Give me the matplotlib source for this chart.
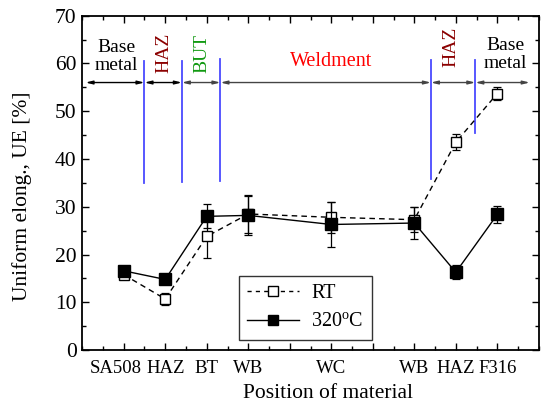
"""
Uniform elongation across the weld joint: RT vs 320 C.
"""

import matplotlib
matplotlib.use("Agg")
import matplotlib.pyplot as plt
import matplotlib.transforms as mtransforms
from matplotlib.lines import Line2D
from matplotlib.ticker import MultipleLocator, FixedLocator

plt.rcParams["font.family"] = ["Liberation Serif", "DejaVu Serif"]
plt.rcParams["mathtext.fontset"] = "custom"
plt.rcParams["mathtext.rm"] = "Liberation Serif"

# ---------------------------------------------------------------------------
# Data
# ---------------------------------------------------------------------------
positions = [1, 2, 3, 4, 6, 8, 9, 10]
tick_labels = ["SA508", "HAZ", "BT", "WB", "WC", "WB", "HAZ", "F316"]

ue_rt = [15.8, 10.7, 23.8, 28.5, 27.8, 27.3, 43.5, 53.7]
err_rt = [0.5, 1.3, 4.5, 3.9, 3.2, 2.6, 1.7, 1.4]

ue_320 = [16.6, 14.8, 28.0, 28.2, 26.3, 26.6, 16.3, 28.4]
err_320 = [0.5, 0.5, 2.5, 4.1, 4.8, 3.4, 1.5, 1.8]

# zone boundaries (x) and their vertical extent (y0, y1)
boundaries = [1.5, 2.4, 3.33, 8.4, 9.47]
boundary_y = [(35.0, 60.5), (35.2, 60.4), (35.5, 61.0), (35.8, 60.8), (45.5, 60.8)]
arrow_y = 56.0
arrow_ends = [0.08, 1.5, 2.4, 3.33, 8.4, 9.47, 10.78]

# ---------------------------------------------------------------------------
# Plot
# ---------------------------------------------------------------------------
fig = plt.figure(figsize=(5.41, 4.11), dpi=100)
ax = fig.add_axes([0.152, 0.148, 0.844, 0.814])

ax.errorbar(positions, ue_rt, yerr=err_rt, fmt="s--", color="black",
            mfc="white", mec="black", ms=7, lw=1.0, elinewidth=0.9,
            capsize=3, capthick=0.9, dashes=(4, 3), zorder=3)
ax.errorbar(positions, ue_320, yerr=err_320, fmt="s-", color="black",
            mfc="black", mec="black", ms=8, lw=1.0, elinewidth=0.9,
            capsize=3, capthick=0.9, zorder=4)

# zone boundaries
for xb, (y0, y1) in zip(boundaries, boundary_y):
    ax.plot([xb, xb], [y0, y1], color="#4a4aff", lw=1.3, zorder=2)

# double-headed arrows between boundaries
for i, (xa, xb) in enumerate(zip(arrow_ends[:-1], arrow_ends[1:])):
    col = "black" if i < 2 else "#444444"
    ax.annotate("", xy=(xa, arrow_y), xytext=(xb, arrow_y),
                arrowprops=dict(arrowstyle="<|-|>,head_length=0.4,head_width=0.1",
                                color=col, lw=1.0, shrinkA=0, shrinkB=0))

# zone labels
ax.text(0.82, 61.5, "Base\nmetal", ha="center", va="center", fontsize=14,
        linespacing=1.1)
ax.text(1.97, 62.3, "HAZ", rotation=90, ha="center", va="center",
        fontsize=14, color="#8b0000")
ax.text(2.88, 62.0, "BUT", rotation=90, ha="center", va="center",
        fontsize=14, color="#119911")
ax.text(6.0, 60.3, "Weldment", ha="center", va="center", fontsize=14.5,
        color="red")
ax.text(8.88, 63.4, "HAZ", rotation=90, ha="center", va="center",
        fontsize=14, color="#8b0000")
ax.text(10.2, 61.8, "Base\nmetal", ha="center", va="center", fontsize=14,
        linespacing=1.1)

ax.set_xlim(0, 11)
ax.set_ylim(0, 70)
ax.xaxis.set_major_locator(FixedLocator(list(range(1, 11))))
ax.set_xticklabels(["" if t not in positions else tick_labels[positions.index(t)]
                    for t in range(1, 11)])
ax.xaxis.set_minor_locator(MultipleLocator(0.5))
ax.yaxis.set_major_locator(MultipleLocator(10))
ax.yaxis.set_minor_locator(MultipleLocator(5))
ax.tick_params(which="both", direction="in", top=True, right=True, width=1.0)
ax.tick_params(which="major", length=5)
ax.tick_params(which="minor", length=3)
ax.tick_params(axis="x", labelsize=13.5, pad=7)
ax.tick_params(axis="y", labelsize=15.5, pad=4)
for s in ax.spines.values():
    s.set_linewidth(1.3)

# SA508 label sits a little left of its tick in the original
shift = mtransforms.ScaledTranslation(-8 / 100, 0, fig.dpi_scale_trans)
first = ax.get_xticklabels()[0]
first.set_transform(first.get_transform() + shift)

ax.set_xlabel("Position of material", fontsize=15.5)
ax.xaxis.set_label_coords(0.538, -0.1)
ax.set_ylabel("Uniform elong., UE [%]", fontsize=15.5)
ax.yaxis.set_label_coords(-0.11, 0.46)

handles = [
    Line2D([], [], color="black", ls="--", dashes=(3, 3), lw=1.0, marker="s",
           ms=6.5, mfc="white", mec="black"),
    Line2D([], [], color="black", ls="-", lw=1.0, marker="s",
           ms=7.5, mfc="black", mec="black"),
]
leg = ax.legend(handles, ["RT", "320$^\\mathrm{o}$C"], loc="lower left",
                bbox_to_anchor=(0.343, 0.03), fontsize=14.5,
                frameon=True, fancybox=False, edgecolor="black",
                handlelength=2.6, borderpad=0.4, labelspacing=0.5,
                handletextpad=0.6, borderaxespad=0)
leg.get_frame().set_linewidth(1.0)

fig.savefig("out.png", dpi=100)
